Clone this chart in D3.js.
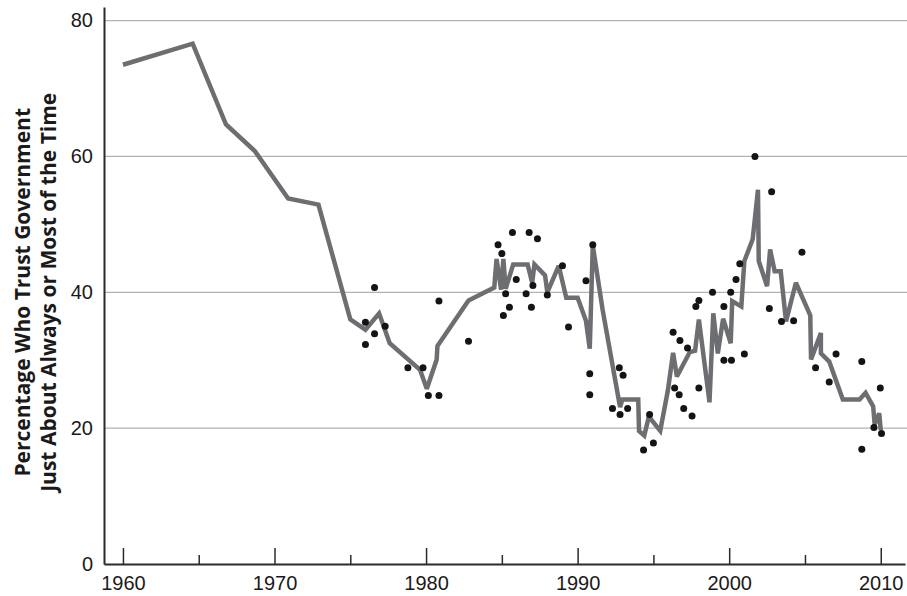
<!DOCTYPE html>
<html>
<head>
<meta charset="utf-8">
<script src="https://cdn.jsdelivr.net/npm/d3@7"></script>
<style>
  body { margin: 0; background: #ffffff; }
  #viz { width: 907px; height: 596px; }
</style>
</head>
<body>
<div id="viz"></div>
<script>
// The chart data (years are fractional where the line bends between years).
var lineYears = [1960.0, 1964.6, 1966.8, 1968.7, 1970.9, 1972.9, 1975.0, 1976.0, 1976.9, 1977.6,
  1979.6, 1980.05, 1980.7, 1980.75, 1982.8, 1984.5, 1984.65, 1984.95, 1985.1, 1985.25,
  1985.75, 1986.7, 1987.0, 1987.15, 1987.85, 1988.0, 1988.75, 1989.25, 1990.0, 1990.55,
  1990.8, 1991.0, 1991.65, 1992.8, 1992.95, 1994.0, 1994.05, 1994.4, 1994.7, 1995.45,
  1995.95, 1996.3, 1996.55, 1997.4, 1997.75, 1998.0, 1998.7, 1998.95, 1999.25, 1999.6,
  2000.1, 2000.2, 2000.8, 2001.0, 2001.55, 2001.9, 2001.95, 2002.5, 2002.7, 2003.0,
  2003.4, 2003.75, 2004.4, 2005.35, 2005.4, 2006.05, 2006.05, 2006.6, 2007.5, 2008.6,
  2009.0, 2009.5, 2009.6, 2009.9, 2010.0];
var lineValues = [73.5, 76.6, 64.7, 60.8, 53.8, 52.9, 36.0, 34.5, 36.9, 32.5,
  28.6, 25.8, 30.1, 32.1, 38.8, 40.7, 44.9, 40.4, 44.9, 40.5,
  44.1, 44.1, 41.4, 44.1, 42.5, 40.0, 43.9, 39.2, 39.2, 35.8,
  31.7, 46.9, 37.4, 23.1, 24.2, 24.2, 19.6, 18.9, 21.7, 19.6,
  25.5, 31.1, 27.6, 31.2, 31.4, 36.0, 23.8, 36.9, 31.0, 36.1,
  32.5, 38.7, 37.9, 44.6, 47.8, 55.1, 44.6, 40.9, 46.3, 43.1,
  43.1, 35.7, 41.4, 36.6, 30.1, 34.0, 31.0, 29.8, 24.2, 24.2,
  25.2, 23.2, 20.5, 22.2, 19.7];

// Individual survey readings (the black dots).
var dotYears = [1976.0, 1976.0, 1976.6, 1976.6, 1977.3, 1978.8, 1979.8, 1980.15, 1980.85, 1980.85,
  1982.8, 1984.75, 1985.0, 1985.1, 1985.25, 1985.5, 1985.7, 1985.95, 1986.6, 1986.8,
  1986.95, 1987.05, 1987.35, 1988.0, 1989.0, 1989.4, 1990.55, 1990.8, 1990.8, 1991.0,
  1992.3, 1992.75, 1993.0, 1992.8, 1993.3, 1994.35, 1994.75, 1995.0, 1996.3, 1996.75,
  1997.25, 1996.4, 1996.7, 1997.0, 1997.55, 1998.0, 1997.8, 1998.0, 1998.9, 1999.65,
  1999.65, 2000.15, 2000.1, 2000.45, 2000.7, 2001.0, 2001.7, 2002.8, 2002.65, 2003.45,
  2004.25, 2004.8, 2005.7, 2006.6, 2007.05, 2008.75, 2008.75, 2009.55, 2009.97, 2010.05];
var dotValues = [35.6, 32.3, 40.7, 33.9, 35.0, 28.9, 28.9, 24.8, 24.8, 38.7,
  32.8, 47.0, 45.7, 36.6, 39.8, 37.8, 48.8, 41.9, 39.8, 48.8,
  37.8, 41.0, 47.9, 39.6, 43.9, 34.9, 41.7, 28.0, 24.9, 47.0,
  22.9, 28.9, 27.8, 22.0, 22.9, 16.8, 22.0, 17.8, 34.1, 32.9,
  31.8, 25.9, 24.9, 22.9, 21.8, 25.9, 37.9, 38.8, 40.0, 37.9,
  30.0, 30.0, 40.0, 41.9, 44.2, 30.9, 60.0, 54.8, 37.6, 35.7,
  35.8, 45.9, 28.9, 26.8, 30.9, 29.8, 16.9, 20.1, 25.9, 19.2];

// Axis ticks.
var yTicks = [0, 20, 40, 60, 80];
var xMajorTicks = [1960, 1970, 1980, 1990, 2000, 2010];
var xMinorTicks = [1965, 1975, 1985, 1995, 2005];
var yTitleLines = ["Percentage Who Trust Government", "Just About Always or Most of the Time"];

window.app = {};

window.app.RenderView = function (node, width, height) {

  var viz = d3.select(node)
              .append("svg")
                .attr("width", width)
                .attr("height", height)
                .style("font-family", "'Open Sans', 'Noto Sans', sans-serif");

  // scales: the axis lines run a little past the first/last tick, so the domains are padded
  var x = d3.scaleLinear().domain([1958.75, 2011.6]).range([104, 905]);
  var y = d3.scaleLinear().domain([0, 82]).range([564, 7]);

  // horizontal gridlines
  viz.append("g")
     .selectAll("line")
     .data(yTicks.filter(function (d) { return d > 0; }))
     .join("line")
       .attr("x1", x(1958.75)).attr("x2", width)
       .attr("y1", function (d) { return y(d); })
       .attr("y2", function (d) { return y(d); })
       .style("stroke", "#b3b3b3")
       .style("stroke-width", 1.3);

  // y axis (tick labels only, no tick marks)
  var yAxis = viz.append("g")
     .attr("transform", "translate(" + x(1958.75) + ",0)")
     .call(d3.axisLeft(y).tickValues(yTicks).tickSize(0).tickSizeOuter(0).tickPadding(11));
  yAxis.select(".domain").style("stroke", "#2b2b2b").style("stroke-width", 2);
  yAxis.selectAll("text").style("font-size", "20px").style("fill", "#1a1a1a");

  // x axis: decade ticks point up into the plot, half-decade ticks are shorter
  var xAxis = viz.append("g")
     .attr("transform", "translate(0," + y(0) + ")")
     .call(d3.axisBottom(x).tickValues(xMajorTicks).tickFormat(d3.format("d"))
             .tickSize(-16).tickSizeOuter(0).tickPadding(12));
  xAxis.select(".domain").style("stroke", "#2b2b2b").style("stroke-width", 2);
  xAxis.selectAll(".tick line").style("stroke", "#2b2b2b").style("stroke-width", 1.5);
  xAxis.selectAll("text").style("font-size", "20px").style("fill", "#1a1a1a");

  var xMinor = viz.append("g")
     .attr("transform", "translate(0," + y(0) + ")")
     .call(d3.axisBottom(x).tickValues(xMinorTicks).tickFormat("").tickSize(-9).tickSizeOuter(0));
  xMinor.select(".domain").remove();
  xMinor.selectAll(".tick line").style("stroke", "#2b2b2b").style("stroke-width", 1.5);

  // the trend line
  var line = d3.line()
               .x(function (d) { return x(lineYears[d]); })
               .y(function (d) { return y(lineValues[d]); });

  viz.append("path")
     .datum(d3.range(lineYears.length))
     .attr("d", line)
     .style("fill", "none")
     .style("stroke", "#6d6e71")
     .style("stroke-width", 4.5)
     .style("stroke-linejoin", "miter")
     .style("stroke-miterlimit", 3);

  // the survey dots
  viz.append("g")
     .selectAll("circle")
     .data(d3.range(dotYears.length))
     .join("circle")
       .attr("cx", function (d) { return x(dotYears[d]); })
       .attr("cy", function (d) { return y(dotValues[d]); })
       .attr("r", 3.5)
       .style("fill", "#141414");

  // two-line rotated y title
  var title = viz.append("text")
     .attr("transform", "translate(0," + y(40) + ") rotate(-90)")
     .attr("text-anchor", "middle")
     .style("font-weight", "bold")
     .style("font-size", "21px")
     .style("fill", "#1a1a1a");

  title.selectAll("tspan")
       .data(yTitleLines)
       .join("tspan")
         .attr("x", 0)
         .attr("y", function (d, i) { return 30 + i * 26; })
         .text(function (d) { return d; });
};

window.app.RenderView(document.getElementById("viz"), 907, 596);
</script>
</body>
</html>
